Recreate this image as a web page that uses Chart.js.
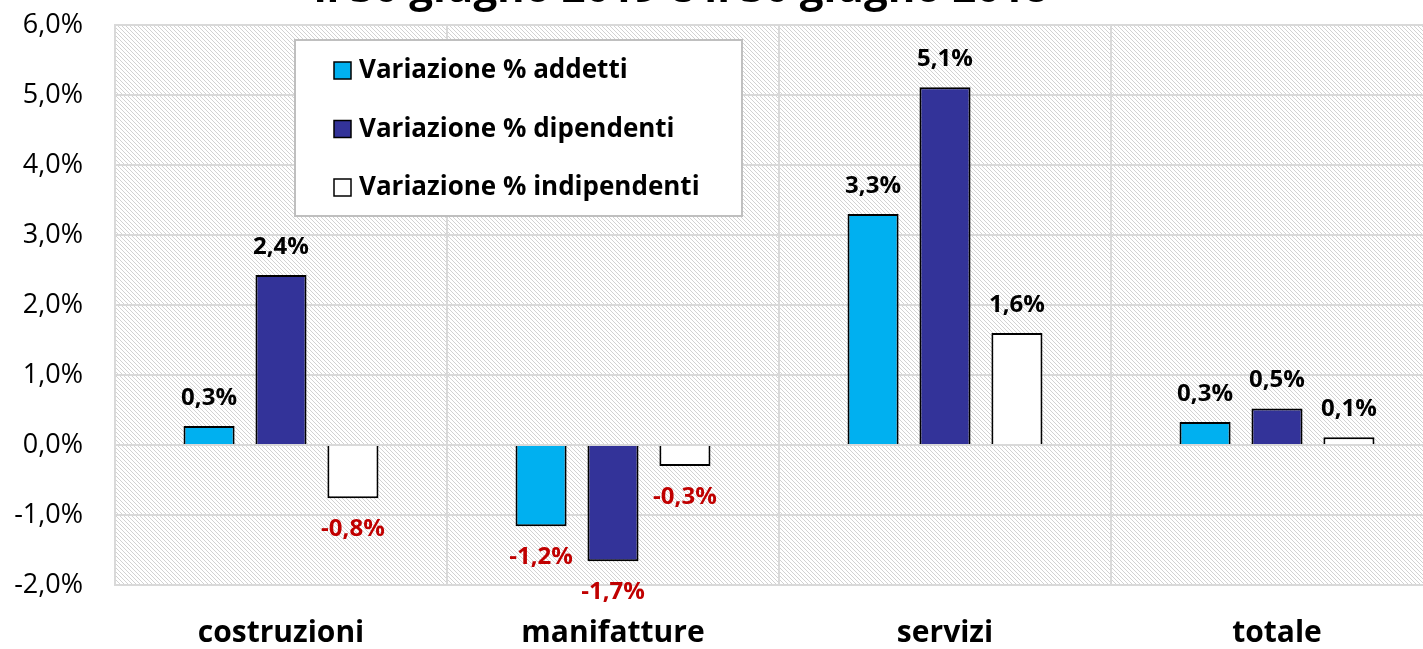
<!DOCTYPE html>
<html>
<head>
<meta charset="utf-8">
<script src="https://cdn.jsdelivr.net/npm/chart.js@4/dist/chart.umd.min.js"></script>
<style>
  html, body { margin: 0; padding: 0; background: #fff; overflow: hidden; }
  #wrap { width: 1450px; height: 649px; }
</style>
</head>
<body>
<div id="wrap"><canvas id="chart"></canvas></div>
<script>
// data
var categories = ['costruzioni', 'manifatture', 'servizi', 'totale'];
var addetti = [0.27, -1.16, 3.30, 0.33];
var dipendenti = [2.43, -1.66, 5.11, 0.52];
var indipendenti = [-0.76, -0.30, 1.60, 0.11];
var seriesNames = ['Variazione % addetti', 'Variazione % dipendenti', 'Variazione % indipendenti'];
var yTicks = [-2, -1, 0, 1, 2, 3, 4, 5, 6];
var titleText = 'il 30 giugno 2019 e il 30 giugno 2018';

var FONT = '"Open Sans", sans-serif';

function pct(v) {
    return v.toFixed(1).replace('.', ',') + '%';
}

// hatched plot background, pixel diagonals
function hatch() {
    var c = document.createElement('canvas');
    c.width = 4; c.height = 4;
    var g = c.getContext('2d');
    g.fillStyle = '#ffffff';
    g.fillRect(0, 0, 4, 4);
    g.fillStyle = '#d2d2d2';
    for (var i = 0; i < 4; i++) g.fillRect(i, i, 1, 1);
    return g.createPattern(c, 'repeat');
}

var background = {
    id: 'background',
    beforeDraw: function (chart) {
        var a = chart.chartArea, ctx = chart.ctx;
        ctx.save();
        ctx.fillStyle = hatch();
        ctx.fillRect(a.left, a.top, a.right - a.left, a.bottom - a.top);
        ctx.restore();
    }
};

var labels = {
    id: 'labels',
    afterDatasetsDraw: function (chart) {
        var ctx = chart.ctx;
        ctx.save();
        ctx.font = 'bold 24px ' + FONT;
        ctx.textAlign = 'center';
        ctx.textBaseline = 'middle';
        chart.data.datasets.forEach(function (ds, i) {
            chart.getDatasetMeta(i).data.forEach(function (bar, j) {
                var v = ds.data[j];
                ctx.fillStyle = v < 0 ? '#c00000' : '#000000';
                var y = v < 0 ? bar.y + 31 : bar.y - 28;
                ctx.fillText(pct(v), bar.x, y);
            });
        });
        ctx.restore();
    }
};

var legendBox = {
    id: 'legendBox',
    afterDraw: function (chart) {
        var ctx = chart.ctx;
        var x = 295, y = 40, w = 447, h = 176;
        ctx.save();
        ctx.fillStyle = '#ffffff';
        ctx.fillRect(x, y, w, h);
        ctx.strokeStyle = '#bfbfbf';
        ctx.lineWidth = 2;
        ctx.strokeRect(x, y, w, h);
        ctx.font = 'bold 26px ' + FONT;
        ctx.textBaseline = 'middle';
        chart.data.datasets.forEach(function (ds, i) {
            var cy = 70 + i * 58.5;
            ctx.fillStyle = ds.backgroundColor;
            ctx.fillRect(334, cy - 8, 17, 17);
            ctx.strokeStyle = '#000';
            ctx.lineWidth = 1.5;
            ctx.strokeRect(334, cy - 8, 17, 17);
            ctx.fillStyle = '#000';
            ctx.fillText(ds.label, 359, cy + 1);
        });
        // title, cut off at the top of the picture
        ctx.font = 'bold 42px ' + FONT;
        ctx.textAlign = 'center';
        ctx.textBaseline = 'alphabetic';
        ctx.fillText(titleText, 681, 2);
        ctx.restore();
    }
};

var ctx = document.getElementById('chart').getContext('2d');
var chart = new Chart(ctx, {
    type: 'bar',
    data: {
        labels: categories,
        datasets: [{
            label: seriesNames[0],
            data: addetti,
            backgroundColor: '#00b0f0',
            borderColor: '#000000',
            borderWidth: 2
        }, {
            label: seriesNames[1],
            data: dipendenti,
            backgroundColor: '#333399',
            borderColor: '#000000',
            borderWidth: 2
        }, {
            label: seriesNames[2],
            data: indipendenti,
            backgroundColor: '#ffffff',
            borderColor: '#000000',
            borderWidth: 2
        }]
    },
    options: {
        responsive: true,
        maintainAspectRatio: false,
        animation: false,
        events: [],
        layout: { padding: { top: 25, right: 7, left: 0, bottom: 0 } },
        barPercentage: 0.71,
        categoryPercentage: 0.65,
        plugins: {
            legend: { display: false },
            tooltip: { enabled: false }
        },
        scales: {
            x: {
                grid: { color: '#d9d9d9', lineWidth: 2, offset: true, drawTicks: false },
                border: { color: '#d9d9d9', width: 2 },
                ticks: {
                    color: '#000',
                    font: { family: FONT, size: 30, weight: 'bold' },
                    padding: 30
                },
                afterFit: function (s) { s.height = 64; }
            },
            y: {
                min: -2,
                max: 6,
                afterBuildTicks: function (s) {
                    s.ticks = yTicks.map(function (v) { return { value: v }; });
                },
                grid: { color: '#d9d9d9', lineWidth: 2, drawTicks: false },
                border: { color: '#d9d9d9', width: 2 },
                ticks: {
                    color: '#000',
                    font: { family: FONT, size: 27 },
                    padding: 32,
                    callback: function (v) { return pct(v); }
                },
                afterFit: function (s) {
                    s.width = 115;
                    s.paddingTop = 0;
                    s.paddingBottom = 0;
                }
            }
        }
    },
    plugins: [background, labels, legendBox]
});
</script>
</body>
</html>
